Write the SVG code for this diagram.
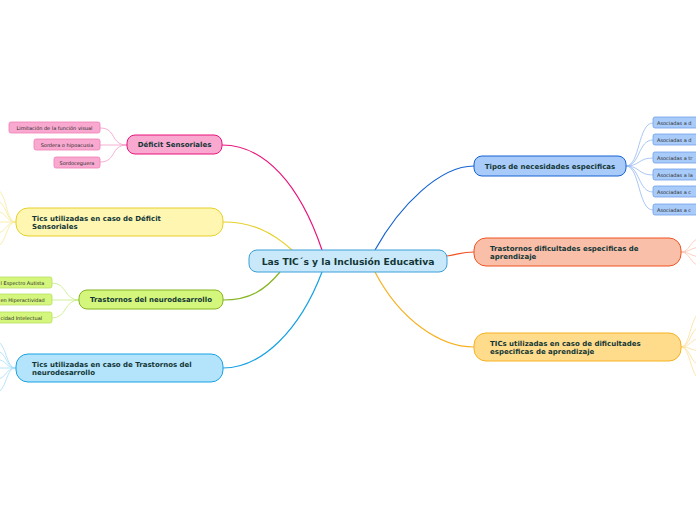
<svg xmlns="http://www.w3.org/2000/svg" width="696" height="520" viewBox="0 0 696 520">
<style>
.t{font-family:"DejaVu Sans",Verdana,sans-serif;font-weight:bold;fill:#123636}
.c{font-family:"DejaVu Sans",Verdana,sans-serif;font-size:5px;fill:#2a2a2a}
.l{fill:none;stroke-width:1.2}
.f{fill:none;stroke-width:0.8}
</style>
<rect width="696" height="520" fill="#ffffff"/>
<g id="connectors">
<path class="l" stroke="#e8137b" d="M322,250 C300,185 265,145 222,145"/>
<path class="l" stroke="#e6d02a" d="M292,250 C272,232 252,222 223,222"/>
<path class="l" stroke="#85b521" d="M280,272 C265,290 250,300 223,300"/>
<path class="l" stroke="#16a1e3" d="M322,272 C300,330 262,368 223,368"/>
<path class="l" stroke="#1462d2" d="M375,250 C400,205 440,166 474,166"/>
<path class="l" stroke="#f0531f" d="M447,256 C460,254 462,252 474,252"/>
<path class="l" stroke="#f7b120" d="M375,272 C400,320 440,347 474,347"/>
<g stroke="#f49ac6" class="f">
<path d="M127,145 C110,145 117,128 100,128"/>
<path d="M127,145 C112,145 115,145 100,145"/>
<path d="M127,145 C110,145 117,162 100,162"/>
</g>
<g stroke="#f6ea9a" class="f">
<path d="M16,222 C5,222 8,192 -5,188"/>
<path d="M16,222 C5,222 8,202 -5,200"/>
<path d="M16,222 C5,222 8,212 -5,211"/>
<path d="M16,222 C5,222 5,222 -5,222"/>
<path d="M16,222 C5,222 8,232 -5,234"/>
<path d="M16,222 C5,222 8,244 -5,248"/>
</g>
<g stroke="#c4eb80" class="f">
<path d="M79,300 C64,300 67,283 52,283"/>
<path d="M79,300 C64,300 67,300 52,300"/>
<path d="M79,300 C64,300 67,318 52,318"/>
</g>
<g stroke="#a4dcf7" class="f">
<path d="M16,368 C5,368 8,344 -5,340"/>
<path d="M16,368 C5,368 8,352 -5,350"/>
<path d="M16,368 C5,368 8,360 -5,359"/>
<path d="M16,368 C5,368 5,368 -5,368"/>
<path d="M16,368 C5,368 8,378 -5,380"/>
<path d="M16,368 C5,368 8,390 -5,394"/>
</g>
<g stroke="#94b9f2" class="f">
<path d="M626,166 C640,166 638,123 653,123"/>
<path d="M626,166 C640,166 638,140 653,140"/>
<path d="M626,166 C640,166 638,158 653,158"/>
<path d="M626,166 C640,166 638,175 653,175"/>
<path d="M626,166 C640,166 638,192 653,192"/>
<path d="M626,166 C640,166 638,210 653,210"/>
</g>
<g stroke="#f9c4b0" class="f">
<path d="M681,252 C690,252 690,240 700,238"/>
<path d="M681,252 C690,252 690,248 700,247"/>
<path d="M681,252 C690,252 690,256 700,257"/>
<path d="M681,252 C690,252 690,264 700,266"/>
</g>
<g stroke="#fbe09a" class="f">
<path d="M681,347 C690,347 690,318 700,312"/>
<path d="M681,347 C690,347 690,330 700,326"/>
<path d="M681,347 C690,347 690,340 700,338"/>
<path d="M681,347 C690,347 690,350 700,351"/>
<path d="M681,347 C690,347 690,362 700,366"/>
<path d="M681,347 C690,347 690,374 700,380"/>
</g>
</g>
<g id="central">
<rect x="249" y="250" width="198" height="22" rx="8" fill="#c9e9fa" stroke="#3a9fda" stroke-width="1"/>
<text class="t" x="348" y="264.5" font-size="9.2" text-anchor="middle">Las TIC´s y la Inclusión Educativa</text>
</g>
<g id="deficit">
<rect x="127" y="135" width="95" height="19" rx="8" fill="#f9a9d0" stroke="#e8137b" stroke-width="1"/>
<text class="t" x="174.5" y="147.3" font-size="7" text-anchor="middle">Déficit Sensoriales</text>
</g>
<g id="deficit-c1"><rect x="9" y="122" width="91" height="11" rx="2" fill="#f9a9d0" stroke="#f07fb5" stroke-width="0.8"/><text class="c" x="54.5" y="129.6" text-anchor="middle">Limitación de la función visual</text></g>
<g id="deficit-c2"><rect x="34" y="139" width="66" height="11" rx="2" fill="#f9a9d0" stroke="#f07fb5" stroke-width="0.8"/><text class="c" x="67" y="146.6" text-anchor="middle">Sordera o hipoacusia</text></g>
<g id="deficit-c3"><rect x="54" y="157" width="46" height="11" rx="2" fill="#f9a9d0" stroke="#f07fb5" stroke-width="0.8"/><text class="c" x="77" y="164.6" text-anchor="middle">Sordoceguera</text></g>
<g id="tics-deficit">
<rect x="16" y="208" width="207" height="28" rx="12" fill="#fff6b1" stroke="#e6d02a" stroke-width="1"/>
<text class="t" x="32" y="220.5" font-size="7">Tics utilizadas en caso de Déficit</text>
<text class="t" x="32" y="229" font-size="7">Sensoriales</text>
</g>
<g id="neuro">
<rect x="79" y="290" width="144" height="19" rx="8" fill="#d5f67c" stroke="#85b521" stroke-width="1"/>
<text class="t" x="151" y="302.3" font-size="7" text-anchor="middle">Trastornos del neurodesarrollo</text>
</g>
<g id="neuro-c1"><rect x="-40" y="277" width="92" height="11" rx="2" fill="#d5f67c" stroke="#b6e162" stroke-width="0.8"/><text class="c" x="0.5" y="284.6">l Espectro Autista</text></g>
<g id="neuro-c2"><rect x="-40" y="294" width="92" height="11" rx="2" fill="#d5f67c" stroke="#b6e162" stroke-width="0.8"/><text class="c" x="0.5" y="301.6">en Hiperactividad</text></g>
<g id="neuro-c3"><rect x="-40" y="312" width="92" height="11" rx="2" fill="#d5f67c" stroke="#b6e162" stroke-width="0.8"/><text class="c" x="0.5" y="319.6">cidad Intelectual</text></g>
<g id="tics-neuro">
<rect x="16" y="354" width="207" height="28" rx="12" fill="#b4e4fb" stroke="#16a1e3" stroke-width="1"/>
<text class="t" x="32" y="366.5" font-size="7">Tics utilizadas en caso de Trastornos del</text>
<text class="t" x="32" y="375" font-size="7">neurodesarrollo</text>
</g>
<g id="tipos">
<rect x="474" y="156" width="152" height="20" rx="8" fill="#a9cbf9" stroke="#1462d2" stroke-width="1"/>
<text class="t" x="550" y="168.8" font-size="7" text-anchor="middle">Tipos de necesidades especificas</text>
</g>
<g id="tipos-c1"><rect x="653" y="117" width="60" height="11" rx="2" fill="#a9cbf9" stroke="#6fa0e8" stroke-width="0.8"/><text class="c" x="657" y="124.6">Asociadas a d</text></g>
<g id="tipos-c2"><rect x="653" y="134" width="60" height="11" rx="2" fill="#a9cbf9" stroke="#6fa0e8" stroke-width="0.8"/><text class="c" x="657" y="141.6">Asociadas a d</text></g>
<g id="tipos-c3"><rect x="653" y="152" width="60" height="11" rx="2" fill="#a9cbf9" stroke="#6fa0e8" stroke-width="0.8"/><text class="c" x="657" y="159.6">Asociadas a tr</text></g>
<g id="tipos-c4"><rect x="653" y="169" width="60" height="11" rx="2" fill="#a9cbf9" stroke="#6fa0e8" stroke-width="0.8"/><text class="c" x="657" y="176.6">Asociadas a la</text></g>
<g id="tipos-c5"><rect x="653" y="186" width="60" height="11" rx="2" fill="#a9cbf9" stroke="#6fa0e8" stroke-width="0.8"/><text class="c" x="657" y="193.6">Asociadas a c</text></g>
<g id="tipos-c6"><rect x="653" y="204" width="60" height="11" rx="2" fill="#a9cbf9" stroke="#6fa0e8" stroke-width="0.8"/><text class="c" x="657" y="211.6">Asociadas a c</text></g>
<g id="trast-dif">
<rect x="474" y="238" width="207" height="28" rx="12" fill="#f9bfa9" stroke="#f0531f" stroke-width="1"/>
<text class="t" x="490" y="250.5" font-size="7">Trastornos dificultades especificas de</text>
<text class="t" x="490" y="259" font-size="7">aprendizaje</text>
</g>
<g id="tics-dif">
<rect x="474" y="333" width="207" height="28" rx="12" fill="#ffdc8b" stroke="#f7b120" stroke-width="1"/>
<text class="t" x="490" y="345.5" font-size="7">TICs utilizadas en caso de dificultades</text>
<text class="t" x="490" y="354" font-size="7">especificas de aprendizaje</text>
</g>
</svg>
